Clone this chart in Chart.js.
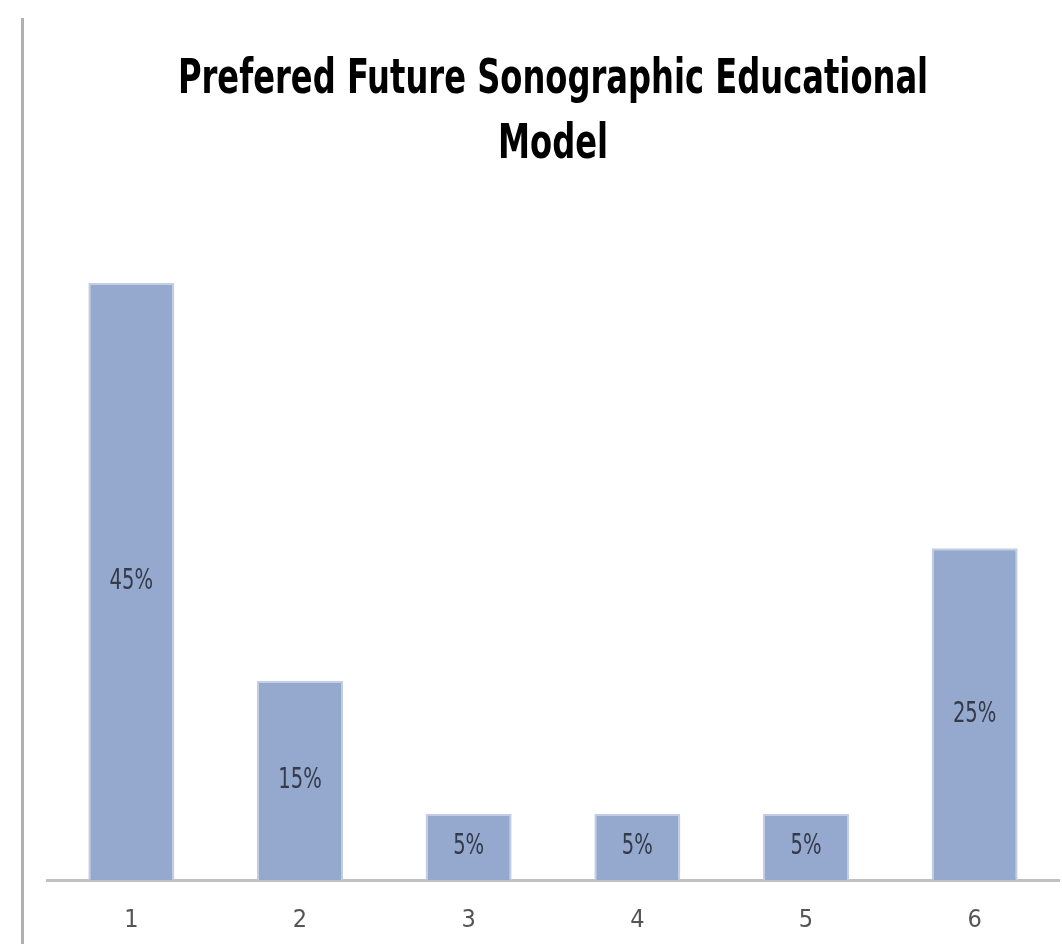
<!DOCTYPE html>
<html>
<head>
<meta charset="utf-8">
<title>Prefered Future Sonographic Educational Model</title>
<script src="https://cdn.jsdelivr.net/npm/chart.js@4.4.0/dist/chart.umd.min.js"></script>
<style>
  html, body { margin: 0; padding: 0; background: #fff; }
  #wrap { position: relative; width: 1062px; height: 944px; }
  #edge { position: absolute; left: 21px; top: 18px; width: 3px; bottom: 0; background: #b0b0b0; }
  canvas { display: block; }
</style>
</head>
<body>
<div id="wrap">
  <div id="edge"></div>
  <canvas id="myChart" width="1062" height="944"></canvas>
</div>
<script>
var categories = ['1', '2', '3', '4', '5', '6'];
var percentages = [45, 15, 5, 5, 5, 25];
var titleLines = ['Prefered Future Sonographic Educational', 'Model'];

var narrow = "'DejaVu Sans Condensed', 'Liberation Sans Narrow', sans-serif";

// squeezed text, the source font is much narrower than what we have
function squeezeText(ctx, text, x, y, sx) {
    ctx.save();
    ctx.translate(x, y);
    ctx.scale(sx, 1);
    ctx.fillText(text, 0, 0);
    ctx.restore();
}

// title drawn by hand so it can be squeezed
var squeezedTitle = {
    id: 'squeezedTitle',
    afterDraw: function (chart) {
        var ctx = chart.ctx;
        var cx = (chart.chartArea.left + chart.chartArea.right) / 2;
        ctx.save();
        ctx.font = 'bold 48px ' + narrow;
        ctx.fillStyle = '#000';
        ctx.textAlign = 'center';
        ctx.textBaseline = 'alphabetic';
        squeezeText(ctx, titleLines[0], cx, 93, 0.745);
        squeezeText(ctx, titleLines[1], cx, 158, 0.745);
        ctx.restore();
    }
};

// labels in the middle of each bar
var barLabels = {
    id: 'barLabels',
    afterDatasetsDraw: function (chart) {
        var ctx = chart.ctx;
        var meta = chart.getDatasetMeta(0);
        ctx.save();
        ctx.font = '29px ' + narrow;
        ctx.fillStyle = '#333a48';
        ctx.textAlign = 'center';
        ctx.textBaseline = 'middle';
        meta.data.forEach(function (bar, i) {
            var p = bar.getProps(['x', 'y', 'base'], true);
            squeezeText(ctx, percentages[i] + '%', p.x, (p.y + p.base) / 2, 0.75);
        });
        ctx.restore();
    }
};

window.onload = function () {
    var ctx = document.getElementById('myChart').getContext('2d');

    var chart = new Chart(ctx, {
        type: 'bar',
        data: {
            labels: categories,
            datasets: [{
                data: percentages,
                backgroundColor: '#95a9cf',
                borderColor: '#c3cee4',
                borderWidth: 2,
                borderSkipped: 'bottom',
                categoryPercentage: 1,
                barPercentage: 0.51
            }]
        },
        options: {
            responsive: false,
            animation: false,
            layout: { padding: { left: 47, right: 3, top: 283, bottom: 8 } },
            plugins: {
                legend: { display: false },
                tooltip: { enabled: false },
                title: { display: false }
            },
            scales: {
                x: {
                    grid: { display: false },
                    border: { display: true, color: '#c0c0c0', width: 3 },
                    ticks: { color: '#555', font: { family: narrow, size: 25 }, padding: 17 },
                    afterFit: function (scale) { scale.height = 56; }
                },
                y: {
                    display: false,
                    min: 0,
                    max: 45
                }
            }
        },
        plugins: [barLabels, squeezedTitle]
    });
};
</script>
</body>
</html>
